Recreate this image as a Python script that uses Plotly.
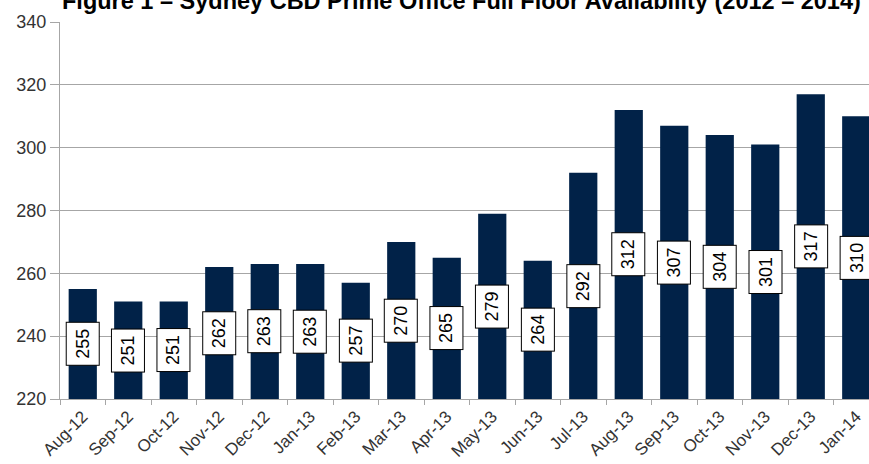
import plotly.graph_objects as go

categories = ["Aug-12", "Sep-12", "Oct-12", "Nov-12", "Dec-12", "Jan-13", "Feb-13", "Mar-13",
              "Apr-13", "May-13", "Jun-13", "Jul-13", "Aug-13", "Sep-13", "Oct-13", "Nov-13",
              "Dec-13", "Jan-14"]
values = [255, 251, 251, 262, 263, 263, 257, 270, 265, 279, 264, 292, 312, 307, 304, 301, 317, 310]
y_min, y_max = 220, 340
title = "Figure 1 \u2013 Sydney CBD Prime Office Full Floor Availability (2012 \u2013 2014)"

bar_color = "#012248"
grid_color = "#a6a6a6"
font_family = "Liberation Sans, Arial, sans-serif"

fig = go.Figure()
fig.add_trace(go.Bar(x=categories, y=values, marker=dict(color=bar_color, line=dict(width=0)),
                     hoverinfo="x+y"))

annotations = []
for c, v in zip(categories, values):
    annotations.append(dict(
        x=c, y=(y_min + v) / 2, xref="x", yref="y", text=str(v), showarrow=False,
        textangle=-90, font=dict(family=font_family, size=18, color="#000000"),
        bgcolor="#ffffff", bordercolor="#000000", borderwidth=1, borderpad=6,
    ))
annotations.append(dict(
    x=0, xref="paper", xanchor="left", y=1, yref="paper", yanchor="bottom", yshift=6,
    text="<b>" + title + "</b>", showarrow=False,
    font=dict(family=font_family, size=23.5, color="#000000"),
))

fig.update_layout(
    width=869, height=464,
    margin=dict(l=60, r=0, t=22, b=65),
    paper_bgcolor="#ffffff", plot_bgcolor="#ffffff",
    bargap=0.38,
    showlegend=False,
    annotations=annotations,
    font=dict(family=font_family, size=14, color="#333333"),
)
fig.update_yaxes(
    range=[y_min, y_max], dtick=20, showgrid=True, gridcolor=grid_color, gridwidth=1,
    showline=True, linecolor=grid_color, linewidth=1, ticks="outside", ticklen=9,
    tickcolor=grid_color, tickfont=dict(size=18, color="#333333"), zeroline=False,
    automargin=False,
)
fig.update_xaxes(
    type="category", range=[-0.5, 17.28], tickson="boundaries", ticks="outside", ticklen=5,
    tickcolor=grid_color, showline=True, linecolor=grid_color, linewidth=1,
    tickangle=-45, tickfont=dict(size=17, color="#333333"), showgrid=False,
    automargin=False,
)

fig.write_html("out.html", config={"displayModeBar": False},
               post_script="document.body.style.margin='0';")
